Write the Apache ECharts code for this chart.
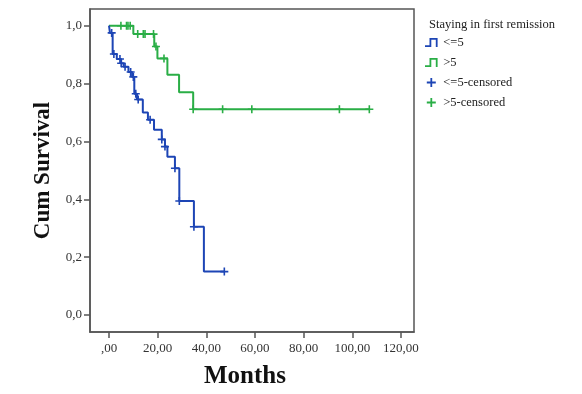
<!DOCTYPE html>
<html>
<head>
<meta charset="utf-8">
<script src="https://cdn.jsdelivr.net/npm/echarts@6/dist/echarts.min.js"></script>
<style>html,body{margin:0;padding:0;background:#fff;}#c{width:582px;height:394px;}</style>
</head>
<body>
<div id="c"></div>
<script>
// ---- data ----
const legendTitle = 'Staying in first remission';
const seriesNames = ['<=5', '>5', '<=5-censored', '>5-censored'];
const xTicks = [0, 20, 40, 60, 80, 100, 120];
const yTicks = [0, 0.2, 0.4, 0.6, 0.8, 1.0];

// <=5 group: step curve (time of drop, survival after drop)
const shortMonths   = [0, 0.4, 1.5, 3.2, 5.0, 6.0, 8.0, 9.5, 10.4, 11.5, 13.9, 16.0, 18.5, 21.7, 23.0, 24.0, 27.1, 28.9, 34.9, 39.0, 47.4];
const shortSurvival = [1.0, 0.975, 0.902, 0.885, 0.870, 0.858, 0.840, 0.823, 0.765, 0.745, 0.700, 0.675, 0.640, 0.607, 0.582, 0.547, 0.507, 0.394, 0.305, 0.150, 0.150];
// <=5 censored
const shortCensMonths   = [1.1, 2.0, 4.5, 5.0, 6.6, 8.9, 10.0, 11.0, 12.0, 16.9, 21.7, 23.0, 27.1, 28.9, 34.9, 47.4];
const shortCensSurvival = [0.975, 0.902, 0.885, 0.870, 0.858, 0.840, 0.823, 0.765, 0.745, 0.675, 0.607, 0.582, 0.507, 0.394, 0.305, 0.150];

// >5 group
const longMonths   = [0, 10.0, 18.6, 19.9, 24.0, 28.8, 34.6, 107.3];
const longSurvival = [1.0, 0.971, 0.928, 0.887, 0.830, 0.770, 0.711, 0.711];
// >5 censored
const longCensMonths   = [4.9, 7.2, 7.8, 8.7, 11.8, 14.1, 14.8, 18.3, 19.3, 22.6, 34.6, 46.7, 58.7, 94.7, 107.0];
const longCensSurvival = [1.0, 1.0, 1.0, 1.0, 0.971, 0.971, 0.971, 0.971, 0.928, 0.887, 0.711, 0.711, 0.711, 0.711, 0.711];

// ---- build ----
const zip = (a, b) => a.map((v, i) => [v, b[i]]);
const blue = '#1d45b5';
const green = '#2aae46';
const serif = '"Liberation Serif", "DejaVu Serif", serif';
const plusPath = 'path://M4,0h2v4h4v2h-4v4h-2v-4h-4v-2h4z';
const stepPath = 'path://M0,8h5v-8h9v10h-2v-8h-5v8h-7z';

const chart = echarts.init(document.getElementById('c'), null, {renderer: 'canvas'});
chart.setOption({
  backgroundColor: '#fff',
  animation: false,
  title: {
    text: legendTitle,
    left: 424, top: 13,
    textStyle: {fontFamily: serif, fontSize: 12.5, fontWeight: 'normal', color: '#222'}
  },
  legend: {
    orient: 'vertical',
    left: 420, top: 31,
    itemWidth: 14, itemHeight: 9, itemGap: 7,
    textStyle: {fontFamily: serif, fontSize: 12.5, color: '#222'},
    data: [
      {name: seriesNames[0], icon: stepPath},
      {name: seriesNames[1], icon: stepPath},
      {name: seriesNames[2], icon: plusPath},
      {name: seriesNames[3], icon: plusPath}
    ]
  },
  grid: {
    left: 90, top: 9, width: 324, height: 323,
    containLabel: false, outerBoundsMode: 'none',
    show: true, borderColor: '#555', borderWidth: 1.5, backgroundColor: '#fff'
  },
  xAxis: {
    type: 'value',
    min: -7.81, max: 125.36,
    name: 'Months',
    nameLocation: 'middle',
    nameGap: 32,
    nameTextStyle: {fontFamily: serif, fontSize: 25, fontWeight: 'bold', color: '#111', padding: [0, 14, 0, 0]},
    splitLine: {show: false},
    axisLine: {show: true, onZero: false, lineStyle: {color: '#555', width: 1.5}},
    axisTick: {show: true, length: 6, lineStyle: {color: '#555', width: 1.5}, customValues: xTicks},
    axisLabel: {
      customValues: xTicks, margin: 10,
      fontFamily: serif, fontSize: 13, color: '#333',
      formatter: v => v === 0 ? ',00' : v.toFixed(2).replace('.', ',')
    }
  },
  yAxis: {
    type: 'value',
    min: -0.0588, max: 1.0577,
    name: 'Cum Survival',
    nameLocation: 'middle',
    nameGap: 31,
    nameRotate: 90,
    nameTextStyle: {fontFamily: serif, fontSize: 23, fontWeight: 'bold', color: '#111'},
    splitLine: {show: false},
    axisLine: {show: true, onZero: false, lineStyle: {color: '#555', width: 1.5}},
    axisTick: {show: true, length: 6, lineStyle: {color: '#555', width: 1.5}, customValues: yTicks},
    axisLabel: {
      customValues: yTicks, margin: 8,
      fontFamily: serif, fontSize: 13, color: '#333',
      formatter: v => v.toFixed(1).replace('.', ',')
    }
  },
  series: [
    {
      name: seriesNames[0], type: 'line', step: 'end', showSymbol: false,
      data: zip(shortMonths, shortSurvival),
      lineStyle: {color: blue, width: 2}, itemStyle: {color: blue}, z: 3
    },
    {
      name: seriesNames[1], type: 'line', step: 'end', showSymbol: false,
      data: zip(longMonths, longSurvival),
      lineStyle: {color: green, width: 2}, itemStyle: {color: green}, z: 2
    },
    {
      name: seriesNames[2], type: 'scatter', symbol: plusPath, symbolSize: 8,
      data: zip(shortCensMonths, shortCensSurvival),
      itemStyle: {color: blue, opacity: 1}, z: 4
    },
    {
      name: seriesNames[3], type: 'scatter', symbol: plusPath, symbolSize: 8,
      data: zip(longCensMonths, longCensSurvival),
      itemStyle: {color: green, opacity: 1}, z: 4
    }
  ]
});
</script>
</body>
</html>
